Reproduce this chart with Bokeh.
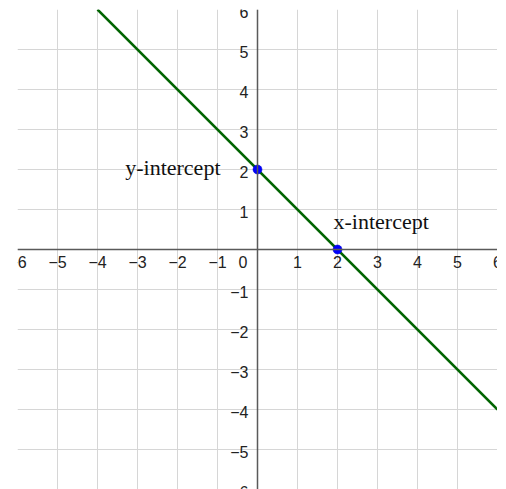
from bokeh.plotting import figure
from bokeh.models import Grid, FixedTicker, Span, ColumnDataSource, Range1d
from bokeh.core.properties import value
from bokeh.embed import file_html
from bokeh.resources import INLINE

# Data
x_ticks = [-6, -5, -4, -3, -2, -1, 1, 2, 3, 4, 5, 6]
x_tick_labels = ["\u22126", "\u22125", "\u22124", "\u22123", "\u22122", "\u22121", "1", "2", "3", "4", "5", "6"]
y_ticks = [-6, -5, -4, -3, -2, -1, 1, 2, 3, 4, 5, 6]
y_tick_labels = ["\u22126", "\u22125", "\u22124", "\u22123", "\u22122", "\u22121", "1", "2", "3", "4", "5", "6"]
grid_values = [-6, -5, -4, -3, -2, -1, 0, 1, 2, 3, 4, 5, 6]
line_x = [-4, 6]
line_y = [6, -4]
point_x = [0, 2]
point_y = [2, 0]
annot_text = ["y-intercept", "x-intercept"]
annot_x = [-0.925, 1.9]
annot_y = [2.06, 0.69]
annot_align = ["right", "left"]

p = figure(width=497, height=489, output_backend="svg", toolbar_location=None,
           x_range=Range1d(-6, 6), y_range=Range1d(-6, 6),
           x_axis_type=None, y_axis_type=None,
           min_border_left=17, min_border_right=0, min_border_top=9, min_border_bottom=0)
p.outline_line_color = None
p.background_fill_color = "white"
p.border_fill_color = "white"

for dim in (0, 1):
    g = Grid(dimension=dim, ticker=FixedTicker(ticks=grid_values),
             grid_line_color="#d6d6d6", grid_line_width=1)
    p.add_layout(g)

p.add_layout(Span(location=0, dimension="width", line_color="#5a5a5a", line_width=1.5))
p.add_layout(Span(location=0, dimension="height", line_color="#5a5a5a", line_width=1.5))

p.line(line_x, line_y, line_color="#006400", line_width=2.5)
p.scatter(point_x, point_y, size=9, fill_color="#0000ff", line_color="#0000cc", line_width=0.5)

# tick labels
p.text(x=x_ticks, y=[0] * len(x_ticks), text=x_tick_labels, text_align="center",
       text_baseline="top", y_offset=6, text_font=value("Liberation Sans"),
       text_font_size="16px", text_color="#222222")
p.text(x=[0] * len(y_ticks), y=y_ticks, text=y_tick_labels, text_align="right",
       text_baseline="middle", x_offset=-9, y_offset=2, text_font=value("Liberation Sans"),
       text_font_size="16px", text_color="#222222")
p.text(x=[0], y=[0], text=["0"], text_align="right", text_baseline="top",
       x_offset=-10, y_offset=6, text_font=value("Liberation Sans"),
       text_font_size="16px", text_color="#222222")

src = ColumnDataSource(dict(x=annot_x, y=annot_y, t=annot_text, a=annot_align))
p.text(x="x", y="y", text="t", text_align="a", text_baseline="alphabetic",
       source=src, text_font=value("Liberation Serif"), text_font_size="22px",
       text_color="#111111")

open("out.html", "w").write(file_html(p, INLINE))
